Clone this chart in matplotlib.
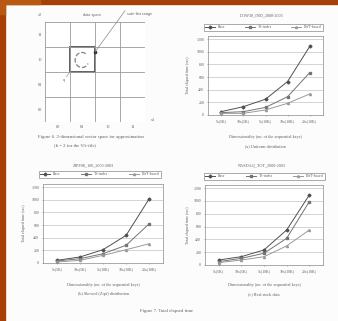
import matplotlib
matplotlib.use('Agg')
import matplotlib.pyplot as plt
from matplotlib.patches import Rectangle, Arc

plt.rc('font', family='Liberation Serif')

W, H = 338, 321

# data (elapsed time, sec)
cats = ['5x(5K)', '10x(5K)', '5x(10K)', '10x(10K)', '20x(10K)']
series_names = ['Base', 'TS-index', 'LWT-based']
a_base = [53, 132, 250, 530, 1085]
a_ts = [37, 53, 120, 290, 670]
a_lwt = [26, 26, 80, 185, 333]
b_base = [42, 95, 210, 437, 1015]
b_ts = [32, 68, 147, 280, 620]
b_lwt = [16, 42, 121, 210, 305]
c_base = [78, 130, 235, 548, 1096]
c_ts = [52, 104, 183, 418, 992]
c_lwt = [37, 78, 130, 298, 548]
yticks = [0, 200, 400, 600, 800, 1000, 1200]
codes = ['00', '01', '10', '11']

GREY = '#7a7a7a'
TXT = '#5e5e5e'

fig = plt.figure(figsize=(W / 100, H / 100), dpi=100)
fig.patch.set_facecolor('#fcfcfc')


def px_axes(x0, y0, x1, y1):
    return fig.add_axes([x0 / W, 1 - y1 / H, (x1 - x0) / W, (y1 - y0) / H])


def ftext(x, y, s, **kw):
    kw.setdefault('color', TXT)
    kw.setdefault('fontsize', 3)
    fig.text(x / W, 1 - y / H, s, **kw)


# orange frame of the photo
fig.add_artist(Rectangle((0, 0), 5 / W, 1, transform=fig.transFigure,
                         color='#a64006', zorder=0))
fig.add_artist(Rectangle((0, 1 - 4 / H), 1, 4 / H, transform=fig.transFigure,
                         color='#a64006', zorder=0))
fig.add_artist(Rectangle((0, 1 - 14 / H), 5 / W, 14 / H, transform=fig.transFigure,
                         color='#b85812', zorder=0))
fig.add_artist(Rectangle((0, 1 - 4 / H), 40 / W, 4 / H, transform=fig.transFigure,
                         color='#b85812', zorder=0))

# ---- Figure 6: vector space grid
ax = px_axes(45, 22, 145, 122)
ax.set_xlim(0, 4)
ax.set_ylim(0, 4)
for k in range(5):
    ax.axhline(k, color='#9a9a9a', lw=0.6)
    ax.axvline(k, color='#9a9a9a', lw=0.6)
for s in ax.spines.values():
    s.set_visible(False)
ax.set_xticks([0.5, 1.5, 2.5, 3.5])
ax.set_xticklabels(codes)
ax.set_yticks([0.5, 1.5, 2.5, 3.5])
ax.set_yticklabels(codes)
ax.tick_params(length=0, labelsize=3.2, labelcolor=TXT, pad=2)
ax.add_patch(Rectangle((1, 2), 1, 1, fill=False, ec='#555555', lw=1.3))
ax.add_patch(Arc((1.48, 2.48), 0.55, 0.6, theta1=60, theta2=330,
                 color='#808080', lw=0.9, ls='--'))
ax.plot([2.0], [2.8], 'o', color='#333333', ms=1.6)
ax.plot([2.0, 3.2], [2.8, 4.45], color='#888888', lw=0.5, clip_on=False)
ax.plot([1.0, 0.85], [2.0, 1.8], color='#888888', lw=0.4)
ax.text(0.8, 1.75, 'q', fontsize=3, color=TXT, ha='right', va='top')
ax.annotate('', xy=(0, 4.3), xytext=(0, 4), arrowprops=dict(arrowstyle='-|>', color=GREY, lw=0.5))
ax.annotate('', xy=(4.3, 0), xytext=(4, 0), arrowprops=dict(arrowstyle='-|>', color=GREY, lw=0.5))
ftext(42, 15, 'x2', ha='right', va='center')
ftext(151, 120, 'x1', ha='left', va='center')
ftext(92, 15, 'data space', ha='center', va='center', fontsize=3.2)
ftext(127, 14, 'safe-list range', ha='left', va='center', fontsize=3.2)
ftext(91, 137, 'Figure 6. 2-dimensional vector space for approximation',
      ha='center', va='center', fontsize=3.4)
ftext(75, 145, '(b = 2 for the VA-file)', ha='center', va='center', fontsize=3.4)


# ---- Figure 7: three line charts
def line_panel(box, vals, title, tx, ty, leg, xlab_y, xlab, cap_y, cap, ylab_x):
    ax = px_axes(*box)
    xs = range(len(cats))
    styles = [('D', '-', '#505050'), ('s', '-', '#747474'), ('^', '-', '#9a9a9a')]
    for v, name, (m, ls, c) in zip(vals, series_names, styles):
        ax.plot(xs, v, ls, color=c, marker=m, ms=1.5, lw=0.7, label=name)
    ax.set_xlim(-0.6, len(cats) - 0.4)
    ax.set_ylim(0, 1250)
    ax.set_yticks(yticks)
    ax.set_xticks(list(xs))
    ax.set_xticklabels(cats)
    ax.grid(axis='y', color='#bdbdbd', lw=0.45)
    ax.tick_params(labelsize=2.8, labelcolor=TXT, length=1, width=0.4, color=GREY, pad=1.8)
    for s in ax.spines.values():
        s.set_color('#8a8a8a')
        s.set_linewidth(0.5)
    ftext(tx, ty, title, ha='center', va='center', fontsize=3.1)
    lx0, ly0, lx1, ly1 = leg
    ax.legend(loc='center', bbox_to_anchor=(lx0 / W, 1 - ly1 / H, (lx1 - lx0) / W, (ly1 - ly0) / H),
              bbox_transform=fig.transFigure, ncol=3, mode='expand', fontsize=2.8,
              frameon=True, fancybox=False, edgecolor='#8a8a8a', borderpad=0.3,
              handlelength=2.5, labelcolor=TXT, framealpha=1).get_frame().set_linewidth(0.5)
    cx = (box[0] + box[2]) / 2
    ftext(cx, xlab_y, xlab, ha='center', va='center', fontsize=3.1)
    ftext(cx, cap_y, cap, ha='center', va='center', fontsize=3.1)
    ftext(ylab_x, (box[1] + box[3]) / 2, 'Total elapsed time (sec)', ha='center',
          va='center', rotation=90, fontsize=2.9)


line_panel((208, 36, 323, 115), [a_base, a_ts, a_lwt], 'DOW30_IND_2000-2003', 262, 15,
           (202, 23, 325, 32), 137, 'Dimensionality (no. of the sequential keys)',
           146, '(a) Uniform distribution', 188)
line_panel((43, 184, 163, 263), [b_base, b_ts, b_lwt], 'ZIPF08_100_2000-2003', 93, 165,
           (37, 170, 163, 179), 285, 'Dimensionality (no. of the sequential keys)',
           294, '(b) Skewed (Zipf) distribution', 24)
line_panel((205, 185, 323, 265), [c_base, c_ts, c_lwt], 'NASDAQ_TOT_2000-2003', 262, 165,
           (202, 172, 327, 181), 285, 'Dimensionality (no. of the sequential keys)',
           294, '(c) Real stock data', 188)

ftext(140, 311, 'Figure 7. Total elapsed time', ha='left', va='center', fontsize=3.4)

fig.savefig('out.png', dpi=100, facecolor=fig.get_facecolor())
